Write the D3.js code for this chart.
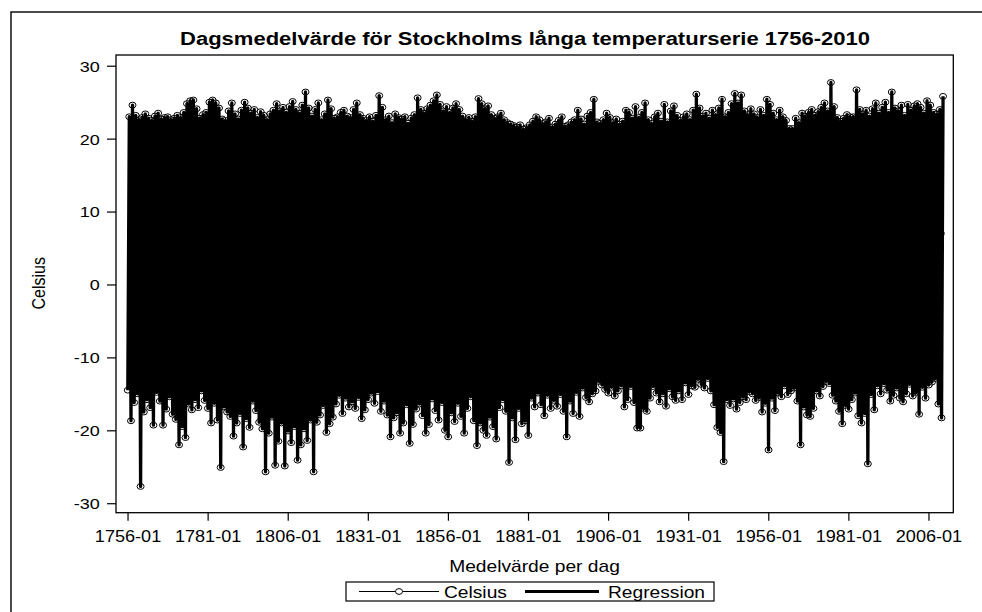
<!DOCTYPE html>
<html><head><meta charset="utf-8">
<script src="https://cdn.jsdelivr.net/npm/d3@7"></script>
<style>
body{margin:0;background:#fff}
svg{display:block}
text{font-family:"Liberation Sans",Arial,Helvetica,sans-serif;fill:#000}
</style>
</head><body>
<svg id="chart" width="982" height="612"></svg>
<script>
// ---------- data ----------
const titleText = "Dagsmedelvärde för Stockholms långa temperaturserie 1756-2010";
const xTitleText = "Medelvärde per dag";
const yTitleText = "Celsius";
const seriesNames = ["Celsius", "Regression"];
const firstYear = 1756;

// yearly highest daily mean (°C), 1756..2010
const yearMax = [
 23.0,24.6,23.2,22.6,22.9,23.4,22.8,22.5,23.1,23.5,
 22.7,22.9,23.0,22.6,22.8,23.2,22.9,23.6,24.8,25.2,
 25.3,24.1,22.8,23.3,23.6,25.0,25.3,24.9,24.2,22.7,
 22.5,23.8,24.9,23.4,22.7,23.9,25.0,24.2,23.5,24.0,
 22.9,23.7,23.2,22.6,23.4,23.9,24.8,23.8,24.3,23.6,
 24.4,25.1,24.0,23.5,24.6,26.4,24.2,23.1,24.0,24.9,
 22.6,23.4,25.3,24.1,22.8,23.0,23.6,23.9,23.1,22.9,
 24.0,24.9,23.3,22.8,22.5,23.0,22.4,23.2,25.9,24.3,
 22.6,23.1,22.2,23.4,22.9,22.7,23.0,22.1,22.8,23.3,
 25.6,24.0,23.5,24.1,24.6,25.2,26.0,24.7,23.8,24.4,
 23.6,24.2,24.8,24.0,23.1,22.6,22.9,22.4,23.0,25.5,
 24.8,24.1,24.5,23.3,22.8,23.0,23.5,22.6,22.2,22.0,
 21.8,21.6,21.9,21.3,21.5,21.9,22.4,23.0,22.6,22.1,
 22.3,22.8,21.6,22.0,22.5,23.0,21.7,21.9,22.3,22.6,
 23.9,22.7,22.0,23.1,23.6,25.4,22.3,22.1,22.6,23.5,
 22.9,22.2,22.7,22.0,22.4,23.9,23.6,22.8,24.4,22.9,
 23.6,24.9,22.6,22.1,23.0,23.5,22.4,24.7,22.3,23.8,
 24.5,23.2,22.5,23.0,23.4,22.6,23.9,26.1,24.2,23.1,
 23.5,22.8,23.9,23.3,24.2,25.4,23.0,23.6,24.8,26.2,
 24.9,26.0,23.8,23.3,24.1,23.4,22.9,24.0,23.2,25.4,
 24.7,23.5,22.6,23.9,23.0,22.5,21.4,21.4,22.8,22.2,
 23.5,23.1,23.6,24.0,23.2,23.7,24.3,24.9,23.8,27.7,
 24.4,22.9,22.4,22.8,23.3,23.0,23.0,26.7,24.0,23.4,
 23.9,23.1,24.1,24.9,23.5,24.3,25.0,23.6,26.4,24.2,
 23.8,24.6,23.2,24.7,23.9,24.5,24.8,24.3,23.5,25.2,
 24.6,23.6,23.4,24.0,25.8
];
// yearly lowest daily mean (°C), 1756..2010
const yearMin = [
 -14.5,-18.7,-16.2,-15.0,-27.7,-17.5,-15.8,-16.9,-19.3,-14.8,
 -16.0,-19.3,-17.1,-15.4,-17.8,-18.5,-22.0,-19.5,-21.0,-16.4,
 -17.2,-15.8,-16.9,-14.6,-15.9,-17.0,-19.0,-16.3,-18.6,-25.1,
 -16.8,-17.5,-18.1,-20.8,-19.0,-17.7,-22.3,-18.4,-19.6,-16.0,
 -17.3,-18.9,-19.8,-25.7,-20.4,-18.2,-24.8,-21.5,-19.0,-24.9,
 -20.1,-21.7,-19.5,-24.1,-22.0,-19.8,-21.4,-18.6,-25.7,-18.9,
 -17.9,-16.6,-20.3,-19.1,-18.2,-16.4,-15.2,-17.7,-15.6,-16.8,
 -16.1,-17.0,-15.5,-18.4,-17.2,-15.8,-14.9,-16.3,-14.7,-17.4,
 -16.0,-17.9,-20.9,-18.3,-17.6,-20.4,-19.0,-16.5,-21.8,-19.2,
 -17.1,-16.4,-18.0,-20.4,-19.2,-15.7,-17.3,-18.6,-16.2,-20.0,
 -20.9,-17.6,-18.8,-16.3,-18.1,-20.4,-17.0,-15.4,-18.7,-22.1,
 -19.0,-20.0,-20.7,-18.2,-19.5,-21.2,-16.9,-15.8,-17.4,-24.4,
 -18.3,-21.3,-17.0,-19.1,-18.7,-20.7,-15.6,-16.8,-14.9,-16.5,
 -18.0,-15.2,-17.0,-15.9,-16.7,-15.1,-17.4,-20.9,-16.0,-17.7,
 -14.8,-18.1,-14.2,-15.5,-16.1,-15.0,-14.6,-13.3,-13.8,-14.4,
 -14.9,-14.1,-15.3,-14.6,-13.9,-16.8,-15.8,-14.0,-16.2,-19.7,
 -19.7,-17.0,-17.4,-15.6,-14.0,-14.9,-16.1,-15.0,-16.7,-14.3,
 -15.4,-15.9,-14.6,-15.8,-13.5,-15.1,-13.9,-14.1,-13.0,-13.7,
 -14.2,-12.9,-14.6,-16.5,-19.6,-20.3,-24.3,-15.8,-16.6,-15.7,
 -17.1,-16.2,-15.4,-15.8,-14.7,-15.0,-15.9,-15.5,-17.5,-16.3,
 -22.7,-15.6,-17.3,-14.9,-15.4,-13.9,-15.1,-14.6,-14.2,-16.0,
 -22.0,-16.8,-17.9,-18.1,-17.0,-14.6,-15.3,-14.0,-13.3,-13.6,
 -15.2,-16.0,-17.4,-19.1,-16.6,-17.1,-15.8,-14.9,-18.0,-19.0,
 -17.7,-24.6,-15.1,-17.2,-13.9,-15.0,-13.6,-14.5,-16.0,-15.2,
 -14.2,-15.6,-16.1,-15.0,-13.7,-15.3,-14.8,-17.8,-14.1,-15.6,
 -13.8,-13.4,-12.9,-16.4,-18.3
];
// season of the yearly extremes (fraction of year): winter low, summer high
const minSeason = 0.08;
const maxSeason = 0.55;

const regressionYears = [1756, 2011];
const regressionValues = [5.9, 7.0];

const xTickYears  = [1756,1781,1806,1831,1856,1881,1906,1931,1956,1981,2006];
const xTickLabels = ["1756-01","1781-01","1806-01","1831-01","1856-01","1881-01","1906-01","1931-01","1956-01","1981-01","2006-01"];
const yTickValues = [-30,-20,-10,0,10,20,30];

// ---------- layout ----------
const svg = d3.select("#chart");
const plot = {left:116, top:55, right:953.3, bottom:512.7};
const x = d3.scaleLinear().domain([1752.4, 2013.75]).range([plot.left, plot.right]);
const y = d3.scaleLinear().domain([-31.3, 31.47]).range([plot.bottom, plot.top]);
const STRETCH = 1.2;

// outer border (extends beyond the window on right/bottom)
svg.append("rect").attr("x",11).attr("y",12).attr("width",1000).attr("height",640)
  .attr("fill","none").attr("stroke","#000").attr("stroke-width",1.4);

// title
svg.append("text").attr("x",180).attr("y",45)
  .attr("font-size",18).attr("font-weight","bold")
  .attr("textLength",690).attr("lengthAdjust","spacingAndGlyphs")
  .text(titleText);

// clip
svg.append("clipPath").attr("id","pc").append("rect")
  .attr("x",plot.left).attr("y",plot.top)
  .attr("width",plot.right-plot.left).attr("height",plot.bottom-plot.top);

// series points
const pts = [];
yearMin.forEach((v,i) => {
  pts.push({t: firstYear + i + minSeason, v: v});
  pts.push({t: firstYear + i + maxSeason, v: yearMax[i]});
});

const g = svg.append("g").attr("clip-path","url(#pc)");
g.append("path").datum(pts)
  .attr("fill","none").attr("stroke","#000").attr("stroke-width",3.3)
  .attr("stroke-linejoin","round")
  .attr("d", d3.line().x(d=>x(d.t)).y(d=>y(d.v)));

g.selectAll("ellipse.m").data(pts).join("ellipse").attr("class","m")
  .attr("cx",d=>x(d.t)).attr("cy",d=>y(d.v)).attr("rx",3.5).attr("ry",2.9)
  .attr("fill","none").attr("stroke","#000").attr("stroke-width",1);

// regression line
g.append("path").datum(regressionYears.map((t,i)=>({t:t, v:regressionValues[i]})))
  .attr("fill","none").attr("stroke","#000").attr("stroke-width",3)
  .attr("d", d3.line().x(d=>x(d.t)).y(d=>y(d.v)));

// frame
svg.append("rect").attr("x",plot.left).attr("y",plot.top)
  .attr("width",plot.right-plot.left).attr("height",plot.bottom-plot.top)
  .attr("fill","none").attr("stroke","#000").attr("stroke-width",1.3);

// x axis
const xAxis = svg.append("g").attr("transform",`translate(0,${plot.bottom})`)
  .call(d3.axisBottom(x).tickValues(xTickYears)
    .tickFormat((d,i)=>xTickLabels[i]).tickSize(8).tickPadding(3));
xAxis.select(".domain").remove();
xAxis.selectAll(".tick line").attr("stroke","#000").attr("stroke-width",1.2);
xAxis.selectAll(".tick text").attr("font-size",16).attr("font-family",null)
  .attr("y",17.6).attr("transform","scale(1.13,1)").attr("fill","#000");

// y axis
const yAxis = svg.append("g").attr("transform",`translate(${plot.left},0)`)
  .call(d3.axisLeft(y).tickValues(yTickValues).tickSize(9).tickFormat(d => String(d)));
yAxis.select(".domain").remove();
yAxis.selectAll(".tick line").attr("stroke","#000").attr("stroke-width",1.2);
yAxis.selectAll(".tick text").attr("font-size",15).attr("font-family",null)
  .attr("x",-16.2/STRETCH).attr("dy","0.36em")
  .attr("transform",`scale(${STRETCH},1)`).attr("fill","#000");

// axis titles
svg.append("g").attr("transform",`translate(534.5,571.5) scale(${STRETCH},1)`)
  .append("text").attr("text-anchor","middle").attr("font-size",16).text(xTitleText);
svg.append("g").attr("transform",`translate(45,283.3) scale(${STRETCH},1) rotate(-90)`)
  .append("text").attr("text-anchor","middle").attr("font-size",16).text(yTitleText);

// legend
const lg = svg.append("g");
lg.append("rect").attr("x",346).attr("y",582).attr("width",368).attr("height",19)
  .attr("fill","#fff").attr("stroke","#000").attr("stroke-width",1.2);
const ly = 591.5;
lg.append("line").attr("x1",359).attr("x2",439).attr("y1",ly).attr("y2",ly)
  .attr("stroke","#000").attr("stroke-width",1);
lg.append("ellipse").attr("cx",399).attr("cy",ly).attr("rx",3.5).attr("ry",2.9)
  .attr("fill","#fff").attr("stroke","#000").attr("stroke-width",1);
lg.append("g").attr("transform",`translate(444,597.5) scale(${STRETCH},1)`)
  .append("text").attr("font-size",16).text(seriesNames[0]);
lg.append("line").attr("x1",525).attr("x2",599).attr("y1",ly).attr("y2",ly)
  .attr("stroke","#000").attr("stroke-width",3);
lg.append("g").attr("transform",`translate(608,597.5) scale(${STRETCH},1)`)
  .append("text").attr("font-size",16).text(seriesNames[1]);
</script>
</body></html>
